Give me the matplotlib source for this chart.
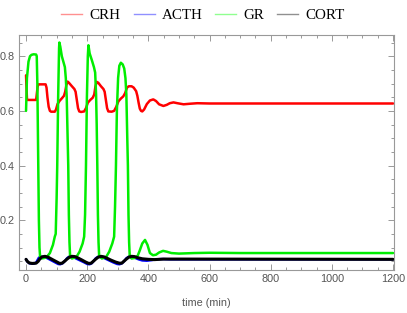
import matplotlib
matplotlib.use("Agg")
import matplotlib.pyplot as plt
from matplotlib.lines import Line2D
from matplotlib.ticker import MultipleLocator, FixedLocator

# ---------------- data ----------------
series_names = ["CRH", "ACTH", "GR", "CORT"]

crh_t = [0, 1, 3, 5, 33, 35, 38, 41, 64, 67, 70, 74, 78, 82, 94, 98, 103, 110, 118, 124,
         128, 132, 136, 140, 150, 158, 162, 166, 170, 174, 180, 190, 196, 202, 210, 218,
         223, 227, 231, 236, 245, 253, 257, 261, 265, 269, 280, 288, 295, 302, 310, 318,
         324, 330, 336, 345, 352, 360, 364, 368, 372, 376, 380, 386, 395, 405, 416, 425,
         435, 449, 460, 470, 482, 495, 515, 535, 560, 600, 700, 1200]
crh_v = [0.73, 0.70, 0.645, 0.64, 0.64, 0.66, 0.69, 0.697, 0.697, 0.685, 0.65, 0.615, 0.60,
         0.597, 0.597, 0.605, 0.625, 0.637, 0.647, 0.655, 0.67, 0.695, 0.707, 0.703, 0.69,
         0.68, 0.67, 0.64, 0.61, 0.598, 0.596, 0.598, 0.61, 0.63, 0.64, 0.648, 0.66, 0.69,
         0.706, 0.703, 0.69, 0.68, 0.67, 0.64, 0.61, 0.598, 0.597, 0.60, 0.615, 0.635, 0.645,
         0.653, 0.665, 0.685, 0.69, 0.69, 0.685, 0.672, 0.655, 0.63, 0.608, 0.60, 0.598,
         0.605, 0.625, 0.638, 0.642, 0.636, 0.624, 0.618, 0.622, 0.628, 0.631, 0.628, 0.624,
         0.626, 0.628, 0.627, 0.627, 0.627]

acth_t = [0, 5, 12, 25, 33, 38, 42, 48, 58, 68, 80, 95, 105, 112, 120, 128, 134, 140, 152,
          162, 175, 190, 200, 208, 215, 222, 228, 235, 245, 255, 268, 285, 298, 306, 314,
          322, 328, 335, 345, 355, 368, 380, 395, 410, 425, 445, 470, 1200]
acth_v = [0.057, 0.048, 0.042, 0.041, 0.045, 0.055, 0.063, 0.066, 0.066, 0.062, 0.055, 0.046,
          0.040, 0.039, 0.043, 0.052, 0.061, 0.066, 0.066, 0.061, 0.054, 0.046, 0.040, 0.039,
          0.043, 0.052, 0.061, 0.066, 0.066, 0.062, 0.055, 0.046, 0.040, 0.039, 0.043, 0.052,
          0.061, 0.066, 0.066, 0.063, 0.057, 0.053, 0.052, 0.054, 0.057, 0.058, 0.057, 0.057]

gr_t = [0, 3, 8, 13, 18, 25, 33, 35, 37, 39, 40, 42, 44, 46, 50, 60, 68, 78, 88, 94, 97,
        100, 102, 105, 108, 109, 112, 117, 122, 127, 130, 133, 136, 138, 140, 142, 144,
        150, 165, 175, 185, 190, 193, 196, 199, 202, 204, 208, 215, 222, 226, 229, 231,
        233, 235, 237, 239, 248, 262, 272, 282, 288, 291, 294, 297, 301, 305, 310, 316,
        321, 325, 328, 331, 333, 335, 337, 339, 345, 355, 365, 372, 380, 389, 397, 405,
        415, 425, 435, 448, 460, 475, 500, 550, 600, 700, 800, 1000, 1200]
gr_v = [0.60, 0.72, 0.78, 0.80, 0.805, 0.807, 0.806, 0.80, 0.70, 0.50, 0.40, 0.20, 0.10,
        0.065, 0.06, 0.062, 0.066, 0.08, 0.11, 0.14, 0.15, 0.28, 0.40, 0.65, 0.83, 0.85,
        0.835, 0.80, 0.78, 0.76, 0.72, 0.65, 0.50, 0.40, 0.22, 0.12, 0.07, 0.06, 0.066,
        0.085, 0.115, 0.14, 0.22, 0.40, 0.65, 0.80, 0.84, 0.81, 0.786, 0.76, 0.74, 0.66,
        0.55, 0.40, 0.22, 0.12, 0.07, 0.06, 0.066, 0.085, 0.115, 0.14, 0.25, 0.40, 0.60,
        0.72, 0.765, 0.776, 0.77, 0.755, 0.72, 0.66, 0.50, 0.40, 0.22, 0.12, 0.07, 0.06,
        0.062, 0.07, 0.09, 0.115, 0.128, 0.11, 0.08, 0.072, 0.074, 0.082, 0.088, 0.085,
        0.08, 0.078, 0.08, 0.081, 0.08, 0.08, 0.08, 0.08]

cort_t = [0, 4, 10, 20, 33, 40, 46, 52, 62, 72, 85, 100, 110, 118, 126, 134, 142, 150, 160,
          170, 182, 195, 205, 213, 220, 228, 236, 245, 255, 265, 278, 293, 305, 313, 320,
          328, 336, 345, 355, 365, 380, 400, 420, 450, 500, 1200]
cort_v = [0.057, 0.050, 0.044, 0.042, 0.043, 0.050, 0.060, 0.066, 0.068, 0.065, 0.057, 0.048,
          0.042, 0.043, 0.050, 0.058, 0.065, 0.068, 0.067, 0.062, 0.055, 0.047, 0.042, 0.043,
          0.050, 0.058, 0.065, 0.068, 0.066, 0.061, 0.054, 0.047, 0.043, 0.043, 0.050, 0.058,
          0.065, 0.068, 0.067, 0.063, 0.059, 0.057, 0.056, 0.058, 0.058, 0.057]

x_ticks = [0, 200, 400, 600, 800, 1000, 1200]
y_ticks = [0.2, 0.4, 0.6, 0.8]
x_label = "time (min)"

# ---------------- figure ----------------
fig = plt.figure(figsize=(4.07, 3.13), dpi=100)
ax = fig.add_axes([19 / 407, 1 - 270 / 313, (394 - 19) / 407, (270 - 35) / 313])

line_colors = ["#ff0000", "#0000ff", "#00ee00", "#000000"]
line_widths = [1.8, 1.8, 1.8, 2.2]
data = [(crh_t, crh_v), (acth_t, acth_v), (gr_t, gr_v), (cort_t, cort_v)]
for (t, v), c, lw in zip(data, line_colors, line_widths):
    ax.plot(t, v, color=c, lw=lw, solid_joinstyle="round", solid_capstyle="round")

ax.set_xlim(-23, 1203)
ax.set_ylim(0.018, 0.8775)

gray = "#999999"
for s in ax.spines.values():
    s.set_color(gray)
    s.set_linewidth(0.8)

ax.xaxis.set_major_locator(FixedLocator(x_ticks))
ax.xaxis.set_minor_locator(MultipleLocator(50))
ax.yaxis.set_major_locator(FixedLocator(y_ticks))
ax.yaxis.set_minor_locator(MultipleLocator(0.05))
ax.set_xticklabels([str(v) for v in x_ticks])
ax.set_yticklabels([f"{v:.1f}" for v in y_ticks])
ax.tick_params(which="both", direction="in", top=True, right=True, color=gray, width=0.7,
               labelcolor="#555555", labelsize=7.8, labelfontfamily="Liberation Sans")
ax.tick_params(which="major", length=4.0, pad=3)
ax.tick_params(which="minor", length=2.0)

ax.set_xlabel(x_label, color="#555555", fontsize=7.8, family="Liberation Sans", labelpad=10)

legend_colors = ["#ff9090", "#9090ff", "#90ff90", "#909090"]
handles = [Line2D([0], [0], color=c, lw=1.0) for c in legend_colors]
fig.legend(handles, series_names, loc="center", bbox_to_anchor=(0.499, 0.952), ncol=4,
           frameon=False, prop={"family": "Liberation Serif", "size": 10.8},
           handlelength=1.4, handletextpad=0.47, columnspacing=0.87, borderpad=0.1)

fig.savefig("out.png", dpi=100)
